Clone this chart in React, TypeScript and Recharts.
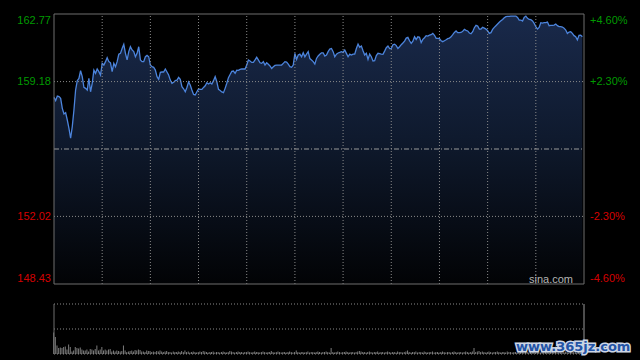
import React from 'react';
import { AreaChart, Area, XAxis, YAxis, ReferenceLine, BarChart, Bar } from 'recharts';

const prices = [
  158.34, 158.17, 158.41, 158.38, 158.29, 157.76, 157.46, 157.53, 157.14, 156.70,
  156.17, 156.79, 157.67, 158.73, 159.23, 159.35, 159.76, 159.44, 158.87, 158.82,
  158.73, 159.35, 158.64, 159.09, 159.79, 159.62, 159.85, 159.71, 159.53, 160.15,
  160.06, 160.24, 160.45, 160.24, 160.18, 159.71, 160.15, 159.97, 160.24, 160.63,
  160.68, 160.94, 161.16, 160.68, 160.33, 160.77, 161.03, 160.86, 160.77, 160.50,
  160.68, 161.03, 160.33, 160.24, 160.24, 160.50, 160.57, 160.50, 160.06, 159.97,
  159.94, 159.79, 159.44, 159.30, 159.67, 159.69, 159.69, 159.85, 159.69, 159.53,
  159.26, 159.09, 159.14, 159.23, 159.26, 159.40, 159.30, 158.91, 158.80, 158.64,
  158.87, 159.16, 159.00, 158.73, 158.50, 158.47, 158.64, 158.79, 158.77, 158.77,
  158.87, 158.96, 159.12, 159.05, 159.12, 159.05, 159.23, 159.44, 159.17, 158.77,
  158.71, 158.63, 158.59, 158.82, 159.09, 159.39, 159.56, 159.72, 159.74, 159.62,
  159.79, 159.78, 159.83, 159.85, 159.85, 159.85, 160.06, 160.33, 160.27, 160.20,
  160.20, 160.33, 160.47, 160.33, 160.18, 160.15, 160.24, 160.06, 160.18, 160.10,
  160.01, 159.88, 159.97, 160.04, 160.06, 160.06, 160.06, 160.06, 160.15, 160.24,
  160.22, 160.11, 159.97, 159.94, 160.06, 160.68, 160.36, 160.59, 160.64, 160.50,
  160.71, 160.50, 160.64, 160.77, 160.40, 160.33, 160.24, 160.11, 160.41, 160.54,
  160.63, 160.71, 160.71, 160.54, 160.59, 160.77, 160.91, 160.94, 160.77, 160.50,
  160.64, 160.70, 160.73, 160.77, 160.73, 160.86, 160.68, 160.50, 160.64, 160.59,
  160.64, 160.64, 160.94, 161.17, 161.00, 161.07, 160.82, 160.59, 160.68, 160.36,
  160.64, 160.50, 160.27, 160.29, 160.56, 160.68, 160.66, 160.64, 160.63, 160.80,
  160.98, 161.07, 160.93, 160.94, 161.14, 161.17, 161.09, 160.94, 161.03, 161.14,
  161.23, 161.33, 161.49, 161.53, 161.35, 161.21, 161.33, 161.56, 161.42, 161.56,
  161.53, 161.25, 161.42, 161.51, 161.62, 161.60, 161.65, 161.67, 161.74, 161.64,
  161.48, 161.48, 161.46, 161.35, 161.30, 161.35, 161.40, 161.46, 161.49, 161.56,
  161.67, 161.79, 161.87, 161.78, 161.78, 161.79, 161.85, 161.95, 161.90, 161.87,
  161.76, 161.72, 161.83, 162.04, 162.17, 162.13, 161.97, 161.97, 162.06, 162.02,
  161.97, 161.88, 161.74, 161.78, 161.95, 162.06, 162.15, 162.24, 162.33, 162.41,
  162.48, 162.57, 162.63, 162.64, 162.64, 162.66, 162.66, 162.66, 162.66, 162.59,
  162.45, 162.45, 162.40, 162.59, 162.66, 162.54, 162.48, 162.47, 162.40, 162.27,
  162.10, 161.97, 162.06, 162.31, 162.29, 162.31, 162.31, 162.34, 162.15, 162.17,
  162.17, 162.18, 162.24, 162.15, 162.10, 162.10, 162.08, 162.02, 161.92, 161.74,
  161.81, 161.83, 161.74, 161.62, 161.56, 161.39, 161.64, 161.65, 161.56,
];

const volumes = [
  43, 34, 17, 12, 13, 12, 14, 15, 9, 19, 14, 5, 7, 14, 12, 11, 13, 9, 7, 7,
  9, 5, 10, 9, 7, 10, 17, 7, 9, 14, 7, 9, 7, 9, 10, 5, 7, 5, 7, 6,
  5, 6, 17, 7, 4, 5, 6, 7, 5, 8, 7, 9, 8, 5, 5, 4, 7, 6, 6, 4,
  5, 4, 6, 5, 7, 5, 4, 5, 6, 4, 4, 3, 5, 4, 4, 5, 4, 6, 4, 7,
  4, 5, 3, 4, 5, 4, 3, 4, 5, 4, 6, 5, 4, 3, 4, 4, 5, 3, 4, 4,
  3, 4, 5, 4, 3, 4, 6, 5, 4, 3, 4, 5, 4, 4, 3, 4, 4, 5, 4, 3,
  4, 5, 4, 4, 3, 4, 5, 4, 3, 4, 4, 6, 4, 3, 4, 5, 4, 3, 4, 4,
  3, 4, 5, 4, 3, 4, 7, 4, 3, 4, 4, 3, 4, 5, 3, 4, 4, 3, 4, 5,
  4, 3, 4, 4, 5, 4, 3, 12, 4, 3, 4, 5, 4, 3, 4, 4, 5, 4, 3, 4,
  4, 3, 4, 5, 6, 5, 4, 4, 3, 4, 5, 4, 3, 4, 4, 5, 3, 4, 4, 3,
  4, 5, 4, 3, 4, 4, 3, 5, 4, 4, 3, 4, 5, 7, 4, 3, 4, 4, 5, 3,
  4, 4, 3, 5, 4, 3, 4, 4, 5, 3, 4, 4, 3, 4, 5, 4, 3, 4, 4, 3,
  4, 5, 4, 3, 4, 4, 3, 4, 5, 4, 3, 4, 5, 12, 4, 5, 6, 4, 5, 4,
  3, 4, 5, 4, 3, 4, 4, 5, 4, 3, 4, 4, 3, 5, 4, 4, 3, 4, 4, 3,
  4, 5, 4, 3, 4, 4, 3, 4, 5, 4, 3, 4, 4, 3, 4, 5, 4, 4, 3, 4,
  4, 3, 4, 5, 4, 3, 4, 4, 5, 4, 3, 4, 4, 5, 4, 3, 4, 4, 5,
];

const priceTicks = [148.43, 152.02, 159.18, 162.77];
const pctTicks = ['-4.60%', '-2.30%', '+2.30%', '+4.60%'];
const prevClose = 155.6;
const timeTicks = [0, 29, 58, 87, 116, 145, 174, 203, 232, 261, 290, 319];
const volTicks = [0, 50, 100];

const data = prices.map((p, i) => ({ t: i, price: p, vol: volumes[i] }));

const GREEN = '#009a00';
const RED = '#d40000';
const GRID = '#8a8a8a';
const BORDER = '#6e6e6e';
const FONT = '"Liberation Sans", Arial, sans-serif';

const minP = priceTicks[0];
const maxP = priceTicks[priceTicks.length - 1];

const shiftFor = (v: number) => (v === maxP ? 6 : v === minP ? -6 : 0);

const LeftTick = (props: any) => {
  const { x, y, payload } = props;
  const v = payload.value as number;
  return (
    <text x={x} y={y + shiftFor(v)} dy="0.35em" textAnchor="end" fill={v > prevClose ? GREEN : RED} fontSize={11} fontFamily={FONT}>
      {v.toFixed(2)}
    </text>
  );
};

const RightTick = (props: any) => {
  const { x, y, payload } = props;
  const v = payload.value as number;
  const i = priceTicks.indexOf(v);
  return (
    <text x={x} y={y + shiftFor(v)} dy="0.35em" textAnchor="start" fill={v > prevClose ? GREEN : RED} fontSize={11} fontFamily={FONT}>
      {pctTicks[i]}
    </text>
  );
};

export default function App() {
  const innerTimes = timeTicks.slice(1, -1);
  return (
    <div style={{ position: 'absolute', left: 0, top: 0, width: 640, height: 360, background: '#000', overflow: 'hidden' }}>
      <div style={{ position: 'absolute', left: 0, top: 0 }}>
        <AreaChart width={640} height={300} data={data} margin={{ top: 14, right: 0, bottom: 16, left: 0 }}>
          <defs>
            <linearGradient id="fillG" x1="0" y1="0" x2="0" y2="1">
              <stop offset="0%" stopColor="#19294a" />
              <stop offset="45%" stopColor="#0f1a2e" />
              <stop offset="100%" stopColor="#020305" />
            </linearGradient>
          </defs>
          <XAxis dataKey="t" type="number" domain={[0, 319]} ticks={timeTicks} hide />
          <YAxis
            yAxisId={0}
            domain={[minP, maxP]}
            ticks={priceTicks}
            width={54}
            axisLine={false}
            tickLine={false}
            tickSize={3}
            tickMargin={0}
            tick={<LeftTick />}
            interval={0}
          />
          <YAxis
            yAxisId="right"
            orientation="right"
            domain={[minP, maxP]}
            ticks={priceTicks}
            width={56}
            axisLine={false}
            tickLine={false}
            tickSize={6}
            tickMargin={0}
            tick={<RightTick />}
            interval={0}
          />
          <Area
            yAxisId="right"
            type="linear"
            dataKey="price"
            stroke="none"
            fill="none"
            dot={false}
            activeDot={false}
            isAnimationActive={false}
          />
          <Area
            yAxisId={0}
            type="linear"
            dataKey="price"
            stroke="#4c84dc"
            strokeWidth={1.3}
            fill="url(#fillG)"
            fillOpacity={1}
            dot={false}
            activeDot={false}
            isAnimationActive={false}
          />
          {innerTimes.map((t) => (
            <ReferenceLine key={'v' + t} yAxisId={0} x={t} stroke={GRID} strokeDasharray="1 2" />
          ))}
          {priceTicks.slice(1, -1).map((p) => (
            <ReferenceLine key={'h' + p} yAxisId={0} y={p} stroke={GRID} strokeDasharray="1 2" />
          ))}
          <ReferenceLine yAxisId={0} y={prevClose} stroke="#9a9a9a" strokeDasharray="5 2 1 2" />
          <ReferenceLine yAxisId={0} y={maxP} stroke={BORDER} />
          <ReferenceLine yAxisId={0} y={minP} stroke={BORDER} />
          <ReferenceLine yAxisId={0} x={timeTicks[0]} stroke={BORDER} />
          <ReferenceLine yAxisId={0} x={timeTicks[timeTicks.length - 1]} stroke={BORDER} />
        </AreaChart>
      </div>
      <div style={{ position: 'absolute', left: 0, top: 300 }}>
        <BarChart width={640} height={56} data={data} margin={{ top: 4, right: 56, bottom: 2, left: 54 }}>
          <XAxis dataKey="t" type="number" domain={[0, 319]} hide />
          <YAxis domain={[0, 100]} ticks={volTicks} hide />
          <Bar dataKey="vol" fill="#7c7c7c" barSize={1} isAnimationActive={false} />
          {volTicks.map((v) => (
            <ReferenceLine key={'vv' + v} y={v} stroke={GRID} strokeDasharray="1 2" />
          ))}
          <ReferenceLine x={timeTicks[0]} stroke={BORDER} />
          <ReferenceLine x={timeTicks[timeTicks.length - 1]} stroke="#9a9a9a" />
        </BarChart>
      </div>
      <svg width={640} height={360} style={{ position: 'absolute', left: 0, top: 0, pointerEvents: 'none' }}>
        <text x={573} y={283} textAnchor="end" fill="#b4b4b4" fontSize={11} fontFamily={FONT}>sina.com</text>
        <text
          x={516}
          y={351}
          fill="#2454a6"
          stroke="#cdd6e6"
          strokeWidth={3}
          paintOrder="stroke"
          fontSize={13}
          fontWeight="bold"
          fontFamily='"DejaVu Sans", sans-serif'
        >
          www.365jz.com
        </text>
      </svg>
    </div>
  );
}
